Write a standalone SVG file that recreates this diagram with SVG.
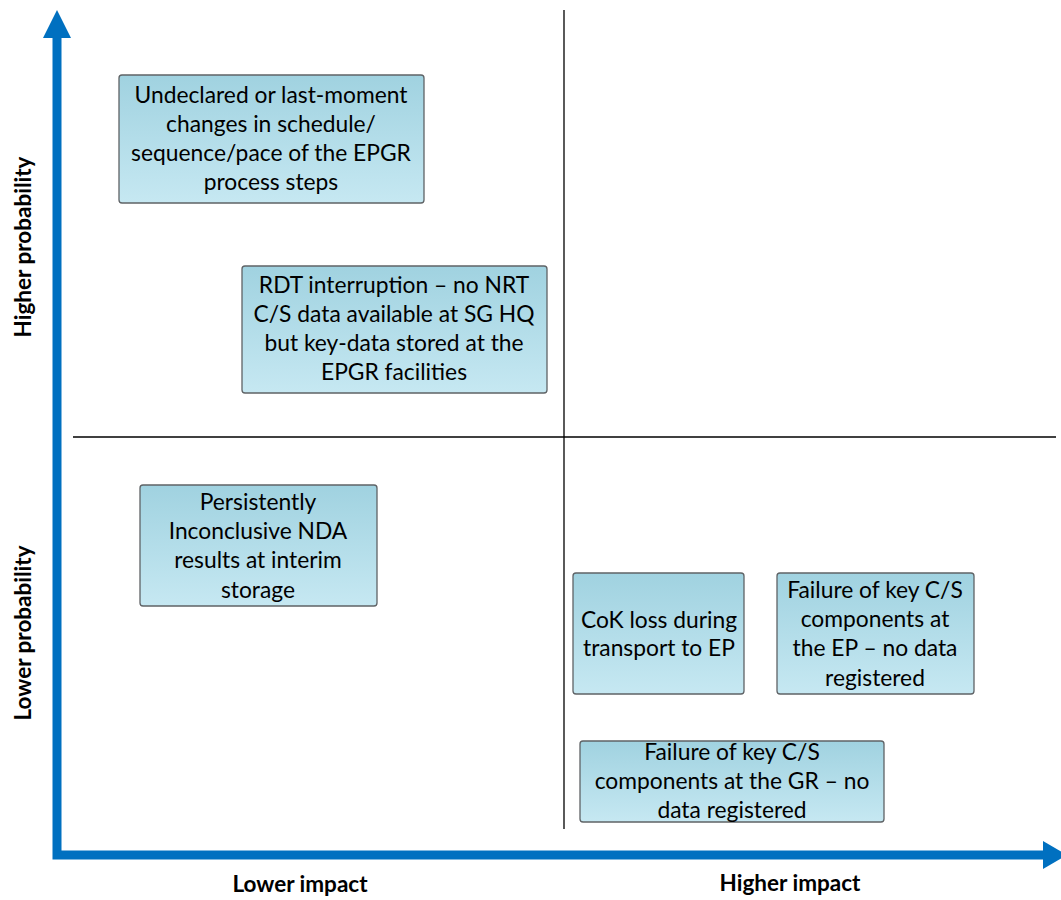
<svg xmlns="http://www.w3.org/2000/svg" width="1061" height="900" viewBox="0 0 1061 900">
<defs>
<linearGradient id="g" x1="0" y1="0" x2="0" y2="1">
<stop offset="0" stop-color="#a0d2e0"/>
<stop offset="1" stop-color="#c6e8f2"/>
</linearGradient>
<style>
.box{fill:url(#g);stroke:#5f6366;stroke-width:1.3}
.t{font-family:Lato,"Liberation Sans",sans-serif;font-size:22.8px;fill:#000;text-anchor:middle}
.ax{font-family:Lato,"Liberation Sans",sans-serif;font-size:22.5px;font-weight:bold;fill:#000;text-anchor:middle}
.q{stroke:#000;stroke-width:1.3;fill:none}
.axis{stroke:#0070c0;stroke-width:9;fill:none}
.head{fill:#0070c0}
</style>
</defs>
<rect width="1061" height="900" fill="#fff"/>
<g id="connectors">
<line class="q" x1="564" y1="10" x2="564" y2="829"/>
<line class="q" x1="73" y1="437" x2="1056" y2="437"/>
<path class="axis" d="M57 36 V855 H1045"/>
<polygon class="head" points="57,10 71,38 43,38"/>
<polygon class="head" points="1067,855 1043,841 1043,869"/>
</g>
<g id="n1">
<rect class="box" x="119" y="75" width="305" height="128" rx="3"/>
<text class="t" x="271" y="103">Undeclared or last-moment</text>
<text class="t" x="271" y="132">changes in schedule/</text>
<text class="t" x="271" y="161">sequence/pace of the EPGR</text>
<text class="t" x="271" y="190">process steps</text>
</g>
<g id="n2">
<rect class="box" x="242" y="266" width="305" height="127" rx="3"/>
<text class="t" x="394" y="293">RDT interruption – no NRT</text>
<text class="t" x="394" y="322">C/S data available at SG HQ</text>
<text class="t" x="394" y="351">but key-data stored at the</text>
<text class="t" x="394" y="380">EPGR facilities</text>
</g>
<g id="n3">
<rect class="box" x="140" y="485" width="237" height="121" rx="3"/>
<text class="t" x="258" y="510">Persistently</text>
<text class="t" x="258" y="539">Inconclusive NDA</text>
<text class="t" x="258" y="568">results at interim</text>
<text class="t" x="258" y="598">storage</text>
</g>
<g id="n4">
<rect class="box" x="573" y="573" width="171" height="121" rx="3"/>
<text class="t" x="659" y="628">CoK loss during</text>
<text class="t" x="659" y="656">transport to EP</text>
</g>
<g id="n5">
<rect class="box" x="777" y="573" width="197" height="121" rx="3"/>
<text class="t" x="875" y="598">Failure of key C/S</text>
<text class="t" x="875" y="627">components at</text>
<text class="t" x="875" y="656">the EP – no data</text>
<text class="t" x="875" y="686">registered</text>
</g>
<g id="n6">
<rect class="box" x="580" y="741" width="304" height="81" rx="3"/>
<text class="t" x="732" y="760">Failure of key C/S</text>
<text class="t" x="732" y="789">components at the GR – no</text>
<text class="t" x="732" y="818">data registered</text>
</g>
<g id="labels">
<text class="ax" transform="translate(31,247) rotate(-90)">Higher probability</text>
<text class="ax" transform="translate(31,633) rotate(-90)">Lower probability</text>
<text class="ax" x="300" y="892">Lower impact</text>
<text class="ax" x="790" y="891">Higher impact</text>
</g>
</svg>
